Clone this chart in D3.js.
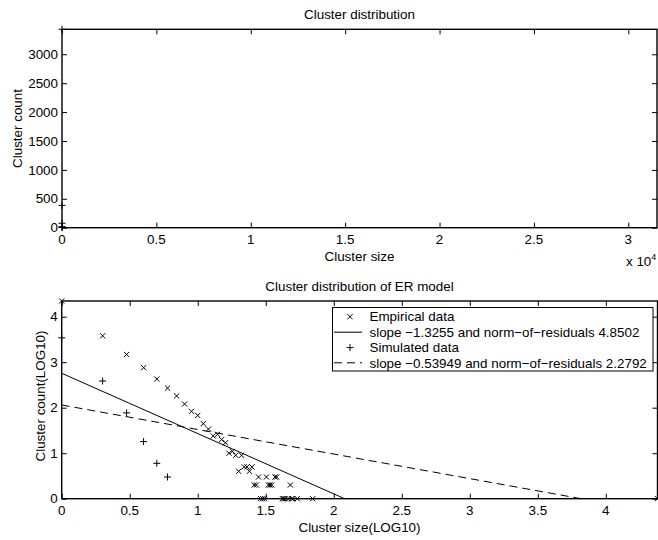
<!DOCTYPE html>
<html>
<head>
<meta charset="utf-8">
<script src="https://cdn.jsdelivr.net/npm/d3@7"></script>
<style>
  html, body { margin: 0; padding: 0; background: #fff; }
  svg { display: block; }
  text { font-family: "Liberation Sans", Arial, Helvetica, sans-serif; fill: #000; }
</style>
</head>
<body>
<svg id="chart" width="658" height="540"></svg>
<script>
// ---- data ----
// Top panel: simulated cluster distribution on linear axes
const simSize  = [1, 2, 3, 4, 5, 6];
const simCount = [3432, 386, 77, 18, 6, 3];
const topXTicks = [0, 5000, 10000, 15000, 20000, 25000, 30000];
const topXTickLabels = ["0", "0.5", "1", "1.5", "2", "2.5", "3"];
const topYTicks = [0, 500, 1000, 1500, 2000, 2500, 3000];
const topXMax = 31520;
const topYMax = 3432;

// Bottom panel: log10 values
const empLogSize  = [0, 0.301, 0.477, 0.602, 0.699, 0.778, 0.845, 0.903, 0.954, 1.0, 1.041, 1.079,
  1.114, 1.146, 1.176, 1.204, 1.230, 1.255, 1.279, 1.301, 1.322, 1.342, 1.362, 1.380, 1.398,
  1.415, 1.431, 1.447, 1.462, 1.477, 1.491, 1.505, 1.519, 1.531, 1.544, 1.568, 1.580,
  1.623, 1.633, 1.643, 1.663, 1.681, 1.690, 1.699, 1.732, 1.845, 4.38];
const empLogCount = [4.345, 3.58, 3.17, 2.88, 2.63, 2.43, 2.26, 2.08, 1.92, 1.83, 1.65, 1.53,
  1.38, 1.415, 1.30, 1.23, 1.0, 1.04, 0.954, 0.602, 0.954, 0.699, 0.699, 0.602, 0.699,
  0.301, 0.301, 0.477, 0, 0, 0, 0.477, 0.301, 0.301, 0.301, 0.477, 0.477,
  0, 0, 0, 0, 0.301, 0, 0, 0, 0, 0];
const simLogSize  = [0, 0.301, 0.477, 0.602, 0.699, 0.778];
const simLogCount = [3.5356, 2.587, 1.886, 1.255, 0.778, 0.477];
// fitted lines: [intercept, slope]
const empFit = [2.757, -1.3255];
const simFit = [2.06, -0.53949];
const botXTicks = [0, 0.5, 1, 1.5, 2, 2.5, 3, 3.5, 4];
const botYTicks = [0, 1, 2, 3, 4];
const botXMax = 4.38;
const botYMax = 4.345;
const legendLabels = ["Empirical data",
  "slope \u22121.3255 and norm\u2212of\u2212residuals 4.8502",
  "Simulated data",
  "slope \u22120.53949 and norm\u2212of\u2212residuals 2.2792"];

// ---- drawing ----
const svg = d3.select("#chart");
const FS = 13.4;
const TL = 5; // tick length (inward)

function drawMarkerX(g, x, y, r) {
  g.append("path").attr("d", `M${x - r},${y - r}L${x + r},${y + r}M${x - r},${y + r}L${x + r},${y - r}`)
    .attr("stroke", "#000").attr("stroke-width", 1).attr("fill", "none");
}
function drawMarkerPlus(g, x, y, r) {
  g.append("path").attr("d", `M${x - r},${y}L${x + r},${y}M${x},${y - r}L${x},${y + r}`)
    .attr("stroke", "#000").attr("stroke-width", 1).attr("fill", "none");
}

function frame(box, xs, ys, xTicks, xLabels, yTicks, yLabels) {
  const g = svg.append("g");
  g.append("g").attr("transform", `translate(0,${box.b})`).call(d3.axisTop(xs).tickValues(xTicks).tickSize(TL).tickFormat(""));
  g.append("g").attr("transform", `translate(0,${box.t})`).call(d3.axisBottom(xs).tickValues(xTicks).tickSize(TL).tickFormat(""));
  g.append("g").attr("transform", `translate(${box.l},0)`).call(d3.axisRight(ys).tickValues(yTicks).tickSize(TL).tickFormat(""));
  g.append("g").attr("transform", `translate(${box.r},0)`).call(d3.axisLeft(ys).tickValues(yTicks).tickSize(TL).tickFormat(""));
  g.selectAll(".domain").remove();
  g.selectAll(".tick line").attr("stroke", "#000").attr("stroke-width", 1);
  g.append("rect").attr("x", box.l).attr("y", box.t).attr("width", box.r - box.l).attr("height", box.b - box.t)
    .attr("fill", "none").attr("stroke", "#000").attr("stroke-width", 1.4);
  xTicks.forEach((v, i) => {
    g.append("text").attr("x", xs(v)).attr("y", box.b + 16.5).attr("text-anchor", "middle")
      .attr("font-size", FS).text(xLabels[i]);
  });
  yTicks.forEach((v, i) => {
    g.append("text").attr("x", box.l - 4).attr("y", ys(v) + 4.7).attr("text-anchor", "end")
      .attr("font-size", FS).text(yLabels[i]);
  });
  return g;
}

// ---- top panel ----
const boxT = { l: 62, r: 657, t: 29.3, b: 227.7 };
const xT = d3.scaleLinear().domain([0, topXMax]).range([boxT.l, boxT.r]);
const yT = d3.scaleLinear().domain([0, topYMax]).range([boxT.b, boxT.t]);
frame(boxT, xT, yT, topXTicks, topXTickLabels, topYTicks, topYTicks.map(String));
const gT = svg.append("g");
simSize.forEach((s, i) => drawMarkerPlus(gT, xT(s), yT(simCount[i]), 3.5));
svg.append("text").attr("x", 359.5).attr("y", 19).attr("text-anchor", "middle").attr("font-size", FS).text("Cluster distribution");
svg.append("text").attr("x", 359.5).attr("y", 260.5).attr("text-anchor", "middle").attr("font-size", FS).text("Cluster size");
svg.append("text").attr("transform", "translate(21.5,128.5) rotate(-90)").attr("text-anchor", "middle").attr("font-size", FS).text("Cluster count");
const expT = svg.append("text").attr("x", 626).attr("y", 266).attr("font-size", FS);
expT.append("tspan").text("x 10");
expT.append("tspan").attr("font-size", 9).attr("dy", -6).text("4");

// ---- bottom panel ----
const boxB = { l: 61.7, r: 657.5, t: 301, b: 498.7 };
const xB = d3.scaleLinear().domain([0, botXMax]).range([boxB.l, boxB.r]);
const yB = d3.scaleLinear().domain([0, botYMax]).range([boxB.b, boxB.t]);
frame(boxB, xB, yB, botXTicks, botXTicks.map(String), botYTicks, botYTicks.map(String));
const gB = svg.append("g");
const line = d3.line().x(d => xB(d[0])).y(d => yB(d[1]));
const fitPts = f => [[0, f[0]], [-f[0] / f[1], 0]];
gB.append("path").attr("d", line(fitPts(empFit))).attr("stroke", "#000").attr("stroke-width", 1).attr("fill", "none");
gB.append("path").attr("d", line(fitPts(simFit))).attr("stroke", "#000").attr("stroke-width", 1)
  .attr("stroke-dasharray", "8,5").attr("fill", "none");
empLogSize.forEach((s, i) => drawMarkerX(gB, xB(s), yB(empLogCount[i]), 2.6));
simLogSize.forEach((s, i) => drawMarkerPlus(gB, xB(s), yB(simLogCount[i]), 3.5));
svg.append("text").attr("x", 359.5).attr("y", 291).attr("text-anchor", "middle").attr("font-size", FS).text("Cluster distribution of ER model");
svg.append("text").attr("x", 359.5).attr("y", 531.5).attr("text-anchor", "middle").attr("font-size", FS).text("Cluster size(LOG10)");
svg.append("text").attr("transform", "translate(44.5,396) rotate(-90)").attr("text-anchor", "middle").attr("font-size", FS).text("Cluster count(LOG10)");

// legend
const lg = svg.append("g");
lg.append("rect").attr("x", 332.5).attr("y", 307.5).attr("width", 320.5).attr("height", 63.5)
  .attr("fill", "#fff").attr("stroke", "#000").attr("stroke-width", 1);
const rowY = [316.7, 332.2, 347.6, 362.8];
drawMarkerX(lg, 350, rowY[0], 2.6);
lg.append("line").attr("x1", 334).attr("x2", 362).attr("y1", rowY[1]).attr("y2", rowY[1]).attr("stroke", "#000");
drawMarkerPlus(lg, 350, rowY[2], 3.5);
lg.append("line").attr("x1", 334).attr("x2", 362).attr("y1", rowY[3]).attr("y2", rowY[3]).attr("stroke", "#000").attr("stroke-dasharray", "8,5");
legendLabels.forEach((t, i) => {
  lg.append("text").attr("x", 369.5).attr("y", rowY[i] + 4.7).attr("font-size", FS).text(t);
});
</script>
</body>
</html>
